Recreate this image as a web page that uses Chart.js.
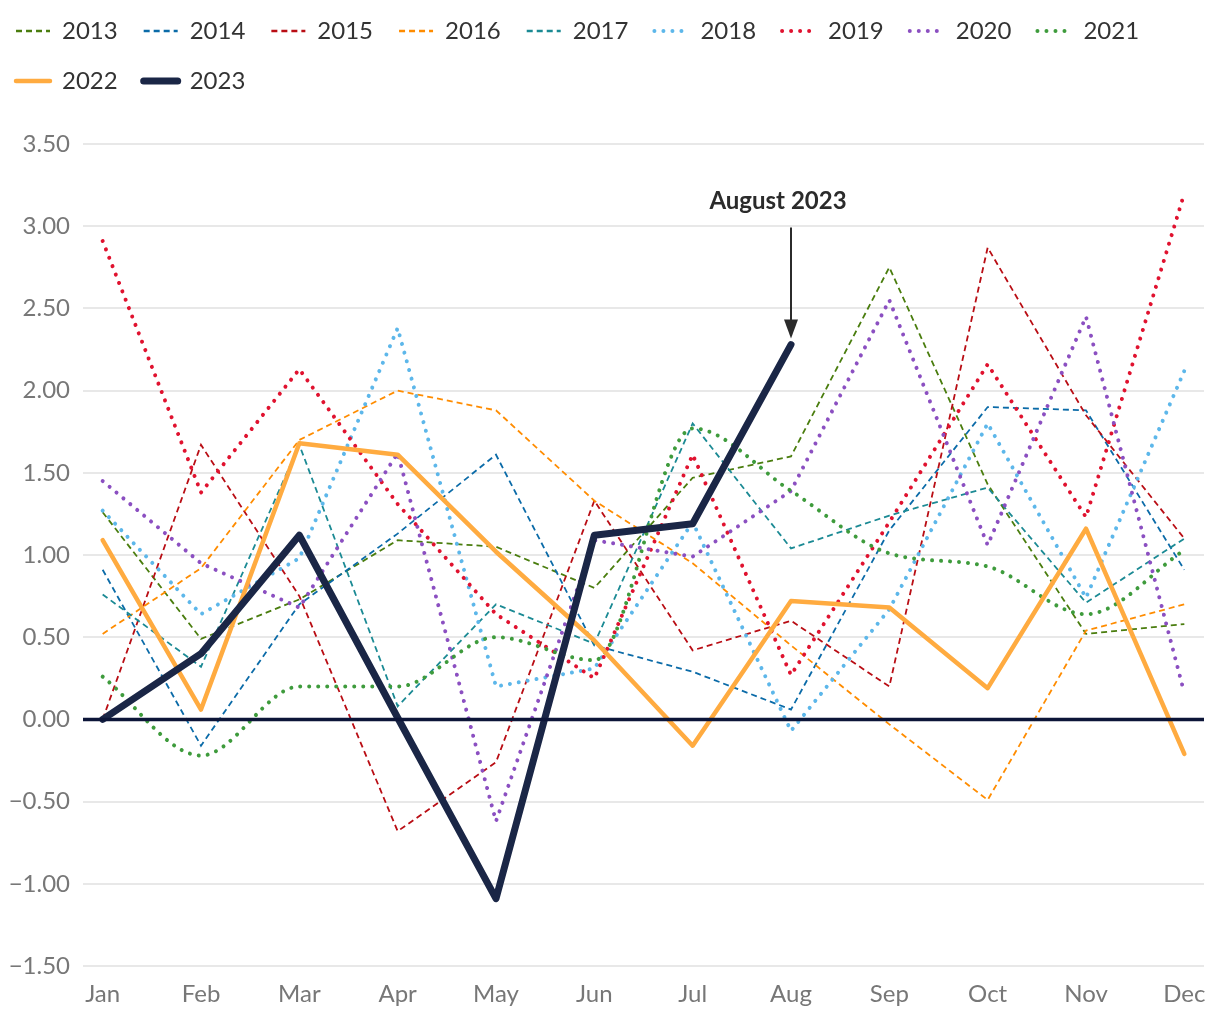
<!DOCTYPE html>
<html>
<head>
<meta charset="utf-8">
<script src="https://cdn.jsdelivr.net/npm/chart.js@4.4.1/dist/chart.umd.min.js"></script>
<style>
  html, body { margin: 0; padding: 0; background: #fff; }
  canvas { display: block; }
</style>
</head>
<body>
<canvas id="chart" width="1220" height="1020"></canvas>
<script>
const months = ['Jan', 'Feb', 'Mar', 'Apr', 'May', 'Jun', 'Jul', 'Aug', 'Sep', 'Oct', 'Nov', 'Dec'];
const yTicks = [-1.5, -1, -0.5, 0, 0.5, 1, 1.5, 2, 2.5, 3, 3.5];

const y2013 = [1.26, 0.49, 0.73, 1.09, 1.05, 0.80, 1.47, 1.60, 2.75, 1.43, 0.52, 0.58];
const y2014 = [0.91, -0.16, 0.70, 1.13, 1.61, 0.45, 0.29, 0.06, 1.15, 1.90, 1.88, 0.91];
const y2015 = [0.00, 1.67, 0.75, -0.68, -0.26, 1.33, 0.42, 0.60, 0.20, 2.87, 1.85, 1.10];
const y2016 = [0.52, 0.92, 1.70, 2.00, 1.88, 1.33, 0.95, 0.45, -0.03, -0.49, 0.54, 0.70];
const y2017 = [0.76, 0.32, 1.67, 0.08, 0.70, 0.46, 1.80, 1.04, 1.24, 1.41, 0.71, 1.10];
const y2018 = [1.27, 0.64, 0.98, 2.38, 0.20, 0.31, 1.20, -0.07, 0.67, 1.80, 0.74, 2.12];
const y2019 = [2.91, 1.38, 2.13, 1.31, 0.64, 0.25, 1.61, 0.27, 1.20, 2.16, 1.23, 3.20];
const y2020 = [1.45, 0.95, 0.68, 1.62, -0.62, 1.09, 0.99, 1.39, 2.55, 1.06, 2.45, 0.16];
const y2021 = [0.26, -0.22, 0.20, 0.20, 0.50, 0.36, 1.77, 1.39, 1.01, 0.93, 0.64, 1.03];
const y2022 = [1.09, 0.06, 1.68, 1.61, 1.02, 0.48, -0.16, 0.72, 0.68, 0.19, 1.16, -0.21];
const y2023 = [0.00, 0.40, 1.12, 0.01, -1.09, 1.12, 1.19, 2.28];

const calloutText = 'August 2023';

const FONT = "Lato, 'Open Sans', sans-serif";

// turn a list of monthly values into {x, y} points for the linear x axis
const toPoints = (values) => values.map((v, i) => ({ x: i, y: v }));

function dashedLine(label, values, color) {
    return {
        label, data: toPoints(values),
        borderColor: color, backgroundColor: color,
        borderWidth: 1.8, borderDash: [6, 4], legendWidth: 2.4,
        pointRadius: 0, fill: false
    };
}

function dottedLine(label, values, color) {
    return {
        label, data: toPoints(values),
        borderColor: color, backgroundColor: color,
        borderWidth: 4, borderDash: [0.01, 9], borderCapStyle: 'round',
        pointRadius: 0, fill: false
    };
}

const datasets = [
    dashedLine('2013', y2013, '#4a7d0e'),
    dashedLine('2014', y2014, '#0b6ba8'),
    dashedLine('2015', y2015, '#b90d14'),
    dashedLine('2016', y2016, '#ff8c00'),
    dashedLine('2017', y2017, '#1b8a94'),
    dottedLine('2018', y2018, '#5db7ea'),
    dottedLine('2019', y2019, '#e0122f'),
    dottedLine('2020', y2020, '#8b4fc1'),
    { ...dottedLine('2021', y2021, '#3e9b3c'), cubicInterpolationMode: 'monotone' },
    {
        label: '2022', data: toPoints(y2022),
        borderColor: '#ffab40', backgroundColor: '#ffab40',
        borderWidth: 4.5, borderCapStyle: 'round', borderJoinStyle: 'round',
        pointRadius: 0, fill: false
    },
    {
        label: '2023', data: toPoints(y2023),
        borderColor: '#1a2646', backgroundColor: '#1a2646',
        borderWidth: 7, borderCapStyle: 'round', borderJoinStyle: 'round',
        pointRadius: 0, fill: false
    }
];
// later years drawn on top
datasets.forEach((ds, i) => { ds.order = datasets.length - i; });

// legend sits higher/further left than chart.js puts it
const nudgeLegend = {
    id: 'nudgeLegend',
    afterLayout(chart) {
        chart.legend.left -= 10;
        chart.legend.top -= 41;
    }
};

// zero line over the lines + the "August 2023" arrow
const overlay = {
    id: 'overlay',
    afterDatasetsDraw(chart) {
        const { ctx, chartArea, scales: { x, y } } = chart;
        const y0 = y.getPixelForValue(0);
        ctx.save();
        ctx.strokeStyle = '#0c1538';
        ctx.lineWidth = 3.5;
        ctx.beginPath();
        ctx.moveTo(chartArea.left, y0);
        ctx.lineTo(chartArea.right, y0);
        ctx.stroke();

        const last = y2023.length - 1;
        const px = x.getPixelForValue(last);
        const py = y.getPixelForValue(y2023[last]);
        ctx.strokeStyle = '#2b2b2b';
        ctx.fillStyle = '#2b2b2b';
        ctx.lineWidth = 2;
        ctx.beginPath();
        ctx.moveTo(px, py - 117);
        ctx.lineTo(px, py - 22);
        ctx.stroke();
        ctx.beginPath();
        ctx.moveTo(px - 7, py - 25);
        ctx.lineTo(px + 7, py - 25);
        ctx.lineTo(px, py - 6);
        ctx.closePath();
        ctx.fill();

        ctx.font = 'bold 24px ' + FONT;
        ctx.textAlign = 'center';
        ctx.textBaseline = 'middle';
        ctx.fillText(calloutText, px - 13, py - 143);
        ctx.restore();
    }
};

new Chart(document.getElementById('chart'), {
    type: 'line',
    data: { datasets },
    options: {
        responsive: false,
        animation: false,
        devicePixelRatio: 1,
        layout: { padding: { top: 34, right: 16, bottom: 0, left: 0 } },
        plugins: {
            tooltip: { enabled: false },
            legend: {
                position: 'top',
                align: 'start',
                labels: {
                    usePointStyle: true,
                    pointStyle: 'line',
                    boxWidth: 34,
                    pointStyleWidth: 34,
                    padding: 26,
                    color: '#333',
                    font: { family: FONT, size: 24 },
                    sort: (a, b) => a.datasetIndex - b.datasetIndex,
                    generateLabels: (chart) => chart.data.datasets.map((ds, i) => ({
                        text: ds.label,
                        datasetIndex: i,
                        hidden: false,
                        fontColor: '#333',
                        strokeStyle: ds.borderColor,
                        fillStyle: ds.borderColor,
                        lineWidth: ds.legendWidth || ds.borderWidth,
                        lineDash: ds.borderDash || [],
                        lineCap: ds.borderCapStyle || 'butt',
                        pointStyle: 'line'
                    }))
                }
            }
        },
        scales: {
            x: {
                type: 'linear',
                min: -0.2,
                max: 11.2,
                afterBuildTicks: (scale) => { scale.ticks = months.map((m, i) => ({ value: i })); },
                afterFit: (scale) => { scale.height = 54; },
                grid: { display: false },
                border: { display: false },
                ticks: {
                    autoSkip: false,
                    maxRotation: 0,
                    padding: 6,
                    color: '#777',
                    font: { family: FONT, size: 24 },
                    callback: (v) => months[v] || ''
                }
            },
            y: {
                min: yTicks[0],
                max: yTicks[yTicks.length - 1],
                afterBuildTicks: (scale) => { scale.ticks = yTicks.map((v) => ({ value: v })); },
                afterFit: (scale) => { scale.width = 83; },
                grid: { color: '#e8e8e8', lineWidth: 2, drawTicks: false },
                border: { display: false },
                ticks: {
                    padding: 13,
                    color: '#777',
                    font: { family: FONT, size: 24 },
                    callback: (v) => (v < 0 ? '\u2212' : '') + Math.abs(v).toFixed(2)
                }
            }
        }
    },
    plugins: [nudgeLegend, overlay]
});
</script>
</body>
</html>
